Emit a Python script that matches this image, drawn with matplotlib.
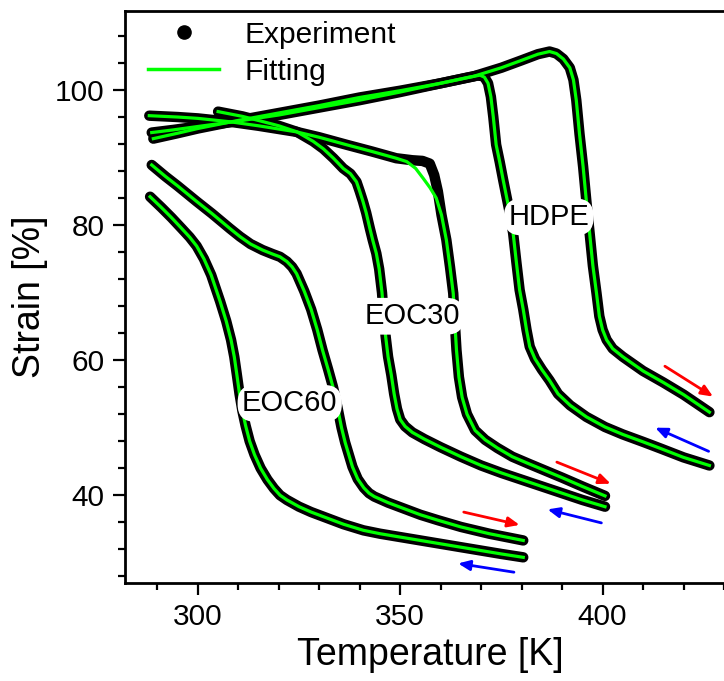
import matplotlib
matplotlib.use("Agg")
import matplotlib.pyplot as plt
from matplotlib.lines import Line2D

plt.rcParams['font.family'] = ['Liberation Sans', 'DejaVu Sans']

# ---- data (T in K, strain in %) ----
hdpe_heat_T = [289, 295, 300, 310, 320, 330, 340, 350, 360, 368, 375, 380, 384, 386.9, 388.6,
               390.3, 391.9, 392.8, 393.5, 394.3, 395.2, 396.0, 396.8, 397.6, 398.5, 399.2, 400.0,
               401.0, 402.5, 405, 410, 415, 420, 426.4]
hdpe_heat_S = [92.8, 93.6, 94.3, 95.5, 96.6, 97.7, 98.9, 99.9, 101.0, 102.0, 103.3, 104.4, 105.3, 105.7, 105.4,
               104.6, 103.3, 101.5, 98.5, 93.5, 88.6, 83.5, 78.8, 74.0, 69.9, 66.5, 64.5,
               63.0, 61.7, 60.5, 58.4, 56.7, 54.9, 52.3]

hdpe_cool_T = [426.4, 420, 414.4, 410, 405, 400.6, 396, 392, 389, 386.9, 385, 383.3, 382.0, 381.2,
               380.4, 379.5, 378.7, 377.9, 377.0, 376.2, 375.4, 374.6, 373.7, 373.0, 372.4, 371.7,
               370.8, 369.7, 367, 360, 350, 340, 330, 320, 310, 300, 294, 288.6]
hdpe_cool_S = [44.4, 45.6, 46.9, 47.9, 49.0, 50.1, 51.6, 53.3, 55.0, 57.0, 58.6, 60.2, 62.0, 64.5,
               67.5, 70.4, 74.5, 78.8, 82.0, 84.4, 86.8, 89.3, 91.9, 96.0, 99.0, 101.0,
               101.9, 102.2, 101.9, 101.0, 99.7, 98.5, 97.4, 96.3, 95.4, 94.6, 94.1, 93.7]

eoc30_heat_T = [288, 295, 300, 307.9, 315, 324.4, 330, 336.7, 343, 349, 353, 355.5, 357.3, 358.4,
                359.3, 360.2, 361.4, 362.3, 363.1, 363.5, 363.9, 364.5, 365.3, 366.5, 368.5, 371,
                374, 377.7, 382, 386, 390, 395, 400.6]
eoc30_heat_S = [96.2, 96.0, 95.8, 95.3, 94.7, 93.8, 93.0, 91.9, 90.9, 89.9, 89.6, 89.5, 89.1, 87.4,
                85.0, 81.5, 77.8, 73.8, 69.9, 65.5, 61.5, 57.5, 54.5, 52.0, 49.6, 48.2,
                47.0, 45.7, 44.6, 43.6, 42.6, 41.3, 39.9]
# the fitted curve leaves the data at the shoulder near 355 K
eoc30_heat_fit_T = [288, 295, 300, 307.9, 315, 324.4, 330, 336.7, 343, 349, 351.6, 353.8, 355.7,
                    357.4, 358.9, 360.2, 361.4, 362.3, 363.1, 363.5, 363.9, 364.5, 365.3,
                    366.5, 368.5, 371, 374, 377.7, 382, 386, 390, 395, 400.6]
eoc30_heat_fit_S = [96.2, 96.0, 95.8, 95.3, 94.7, 93.8, 93.0, 91.9, 90.9, 89.9, 89.4, 88.4, 86.9,
                    85.5, 84.0, 81.5, 77.8, 73.8, 69.9, 65.5, 61.5, 57.5, 54.5,
                    52.0, 49.6, 48.2, 47.0, 45.7, 44.6, 43.6, 42.6, 41.3, 39.9]

eoc30_cool_T = [400.6, 395, 390, 385, 380, 375, 370, 365, 360, 356, 353, 351.2, 350.0, 349.2, 348.5,
                347.8, 347.0, 346.4, 346.0, 345.5, 344.8, 344.1, 343.2, 342.5, 341.6, 340.8, 340.0,
                339.2, 337.7, 335.9, 333.5, 331, 328.5, 324.5, 320, 316.2, 311, 305]
eoc30_cool_S = [38.3, 39.3, 40.3, 41.3, 42.3, 43.3, 44.4, 45.7, 47.1, 48.3, 49.3, 50.2, 51.2, 52.8, 55.0,
                57.8, 60.5, 63.5, 66.0, 70.0, 73.5, 75.8, 77.8, 79.5, 81.8, 83.5, 85.0,
                86.4, 87.6, 88.4, 89.9, 91.3, 92.4, 93.8, 94.7, 95.3, 96.1, 96.8]

eoc60_heat_T = [288.6, 292, 295, 299.7, 303.5, 307.9, 310.4, 313, 316, 318.5, 320.3, 322, 323.3,
                324.4, 326.3, 328, 329.5, 330.8, 332.2, 333.4, 334.5, 335.5, 336.4, 337.2, 338.2,
                339.5, 341, 342.3, 343.6, 347, 351, 355, 359.3, 365, 372, 380.4]
eoc60_heat_S = [88.9, 87.2, 85.8, 83.5, 81.7, 79.5, 78.3, 77.2, 76.3, 75.7, 75.3, 74.6, 73.8,
                72.8, 70.2, 67.5, 64.5, 61.5, 58.6, 56.0, 53.0, 50.0, 47.8, 46.2, 44.2,
                42.4, 41.1, 40.3, 39.8, 38.9, 38.0, 37.1, 36.3, 35.3, 34.3, 33.3]

eoc60_cool_T = [380.4, 375, 370, 365, 360, 355, 350, 345, 340.9, 336, 332, 328, 325, 322, 320.3,
                318.8, 317.2, 315.5, 314.0, 312.8, 311.8, 311.0, 310.3, 309.6, 309.0, 308.2, 307.0,
                305.5, 303.3, 301.5, 299.7, 298.0, 296, 293.5, 291, 288.2]
eoc60_cool_S = [30.8, 31.3, 31.8, 32.3, 32.8, 33.3, 33.8, 34.3, 34.8, 35.7, 36.6, 37.5, 38.3, 39.3, 40.0,
                41.0, 42.3, 44.0, 46.0, 48.0, 50.3, 52.5, 55.0, 58.0, 60.5, 63.0, 65.8,
                68.7, 72.6, 75.0, 76.9, 78.2, 79.5, 81.1, 82.6, 84.2]

labels = ['HDPE', 'EOC30', 'EOC60']
label_T = [386.7, 352.9, 322.7]
label_S = [81.2, 66.5, 53.6]

# arrows: (T_tail, S_tail, T_head, S_head)
heat_arrows = [(415.4, 59.1, 427.3, 54.6), (388.7, 44.9, 402.0, 41.7), (365.7, 37.5, 379.5, 35.6)]
cool_arrows = [(426.2, 46.5, 413.0, 50.0), (399.7, 35.9, 386.4, 37.9), (378.1, 28.6, 364.3, 29.9)]

experiments = [(hdpe_heat_T, hdpe_heat_S), (hdpe_cool_T, hdpe_cool_S),
               (eoc30_heat_T, eoc30_heat_S), (eoc30_cool_T, eoc30_cool_S),
               (eoc60_heat_T, eoc60_heat_S), (eoc60_cool_T, eoc60_cool_S)]
fits = [(hdpe_heat_T, hdpe_heat_S), (hdpe_cool_T, hdpe_cool_S),
        (eoc30_heat_fit_T, eoc30_heat_fit_S), (eoc30_cool_T, eoc30_cool_S),
        (eoc60_heat_T, eoc60_heat_S), (eoc60_cool_T, eoc60_cool_S)]

green = '#00ff00'

fig = plt.figure(figsize=(7.24, 6.81), dpi=100)
ax = fig.add_axes([125 / 724, 98 / 681, 599 / 724, 572 / 681])

for T, S in experiments:
    ax.plot(T, S, color='black', lw=7.5, solid_capstyle='round', solid_joinstyle='round', zorder=2)
for T, S in fits:
    ax.plot(T, S, color=green, lw=2.3, solid_joinstyle='round', zorder=3)

for name, t, s in zip(labels, label_T, label_S):
    ax.text(t, s, name, fontsize=21, ha='center', va='center', zorder=5,
            bbox=dict(boxstyle='round,pad=0.15,rounding_size=0.6', fc='white', ec='none'))

for arrows, col in ((heat_arrows, 'red'), (cool_arrows, 'blue')):
    for t0, s0, t1, s1 in arrows:
        ax.annotate('', xy=(t1, s1), xytext=(t0, s0), zorder=4,
                    arrowprops=dict(arrowstyle='-|>,head_length=0.7,head_width=0.3',
                                    color=col, lw=2, shrinkA=0, shrinkB=0))

ax.set_xlim(282, 430)
ax.set_ylim(27, 111.7)
ax.set_xticks([300, 350, 400])
ax.set_xticks(range(290, 431, 10), minor=True)
ax.set_yticks([40, 60, 80, 100])
ax.set_yticks(range(28, 112, 4), minor=True)

ax.spines['right'].set_visible(False)
for sp in ('left', 'bottom', 'top'):
    ax.spines[sp].set_linewidth(2)
ax.tick_params(which='major', direction='out', length=8.5, width=1.6, labelsize=21.5, pad=6)
ax.tick_params(which='minor', direction='out', length=5, width=1.6)
ax.tick_params(top=False, right=False, which='both')

ax.set_xlabel('Temperature [K]', fontsize=27)
ax.set_ylabel('Strain [%]', fontsize=27)
ax.xaxis.set_label_coords(0.509, -0.095)
ax.yaxis.set_label_coords(-0.128, 0.5)

handles = [Line2D([], [], ls='none', marker='o', ms=9.5, color='black'),
           Line2D([], [], color=green, lw=2.5)]
ax.legend(handles, ['Experiment', 'Fitting'], loc='upper left', bbox_to_anchor=(0.038, 0.983),
          frameon=False, fontsize=21.5, handlelength=2.4, handletextpad=0.85,
          labelspacing=0.3, borderpad=0, borderaxespad=0)

fig.savefig('out.png', dpi=100)
